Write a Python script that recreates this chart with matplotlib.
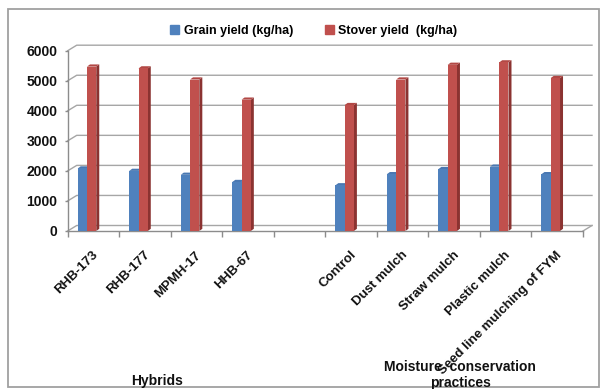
import numpy as np
import matplotlib
matplotlib.use("Agg")
import matplotlib.pyplot as plt
from matplotlib.patches import Polygon, Rectangle
from matplotlib.lines import Line2D
from matplotlib.transforms import ScaledTranslation, IdentityTransform

plt.rcParams["font.family"] = ["Liberation Sans", "DejaVu Sans"]
plt.rcParams["font.weight"] = "bold"

# Data
categories = ["RHB-173", "RHB-177", "MPMH-17", "HHB-67", "",
              "Control", "Dust mulch", "Straw mulch", "Plastic mulch",
              "Seed line mulching of FYM"]
grain = [2080, 2000, 1870, 1630, np.nan, 1520, 1890, 2060, 2140, 1890]
stover = [5470, 5410, 5040, 4370, np.nan, 4190, 5040, 5530, 5610, 5090]
series_names = ["Grain yield (kg/ha)", "Stover yield  (kg/ha)"]
yticks = [0, 1000, 2000, 3000, 4000, 5000, 6000]
group_titles = ["Hybrids", "Moisture  conservation\npractices"]

W, H = 600, 389
fig = plt.figure(figsize=(W / 100, H / 100), dpi=100)
fig.patch.set_facecolor("white")

ax = fig.add_axes([67.7 / W, (H - 231) / H, (583 - 67.7) / W, (231 - 50.7) / H])
ax.set_xlim(0, len(categories))
ax.set_ylim(0, 6000)
ax.patch.set_visible(False)

grid_c = "#a6a6a6"
axis_c = "#8c8c8c"
for s in ["top", "right"]:
    ax.spines[s].set_visible(False)
for s in ["left", "bottom"]:
    ax.spines[s].set_color(axis_c)
    ax.spines[s].set_linewidth(1.0)

x = np.arange(len(categories))
bw = 0.18
blue, red = "#4F81BD", "#C0504D"
b1 = ax.bar(x + 0.194, grain, width=bw, align="edge", color=blue, zorder=3)
b2 = ax.bar(x + 0.194 + bw, stover, width=bw, align="edge", color=red, zorder=3)

# depth offsets in pixels
wall_dx, wall_dy = 9, 5.5
bar_dx, bar_dy = 3, 2.2
ident = IdentityTransform()

# back wall gridlines and floor
for v in yticks:
    (lx, py), (rx, _) = ax.transData.transform([(0, v), (len(categories), v)])
    ln = Line2D([lx, lx + wall_dx, rx + wall_dx], [py, py + wall_dy, py + wall_dy],
                transform=ident, color=grid_c, lw=1.0, zorder=1, clip_on=False)
    ax.add_line(ln)
(rx0, ry0) = ax.transData.transform((len(categories), 0))
ax.add_line(Line2D([rx0, rx0 + wall_dx], [ry0, ry0 + wall_dy], transform=ident,
                   color=grid_c, lw=1.0, zorder=1, clip_on=False))


def add_depth(bars, side_c, top_c):
    for r in bars:
        h = r.get_height()
        if not np.isfinite(h):
            continue
        x0, y0 = r.get_x(), r.get_y()
        x1, y1 = x0 + r.get_width(), y0 + h
        (px0, py0), (px1, py1) = ax.transData.transform([(x0, y0), (x1, y1)])
        side = Polygon([(px1, py0), (px1 + bar_dx, py0 + bar_dy),
                        (px1 + bar_dx, py1 + bar_dy), (px1, py1)],
                       closed=True, transform=ident, facecolor=side_c,
                       edgecolor="none", zorder=2.5, clip_on=False)
        top = Polygon([(px0, py1), (px0 + bar_dx, py1 + bar_dy),
                       (px1 + bar_dx, py1 + bar_dy), (px1, py1)],
                      closed=True, transform=ident, facecolor=top_c,
                      edgecolor="none", zorder=2.5, clip_on=False)
        ax.add_patch(side)
        ax.add_patch(top)


add_depth(b1, "#3B6292", "#4A78B2")
add_depth(b2, "#8B3331", "#B24845")

# axes ticks
ax.set_yticks(yticks)
ax.tick_params(axis="y", length=2.5, width=1, color=axis_c, pad=5,
               labelsize=10, labelcolor="#111111")
ax.set_xticks(x + 0.5)
ax.set_xticklabels(categories, rotation=45, ha="right", va="center",
                   rotation_mode="anchor", fontsize=9.5, color="#111111")
ax.tick_params(axis="x", which="major", length=0, pad=16)
ax.set_xticks(np.arange(len(categories) + 1), minor=True)
ax.tick_params(axis="x", which="minor", length=4.5, width=1, color=axis_c,
               direction="out")
shift = ScaledTranslation(3 / 100, 0, fig.dpi_scale_trans)
for lbl in ax.get_xticklabels():
    lbl.set_transform(lbl.get_transform() + shift)

# legend
handles = [Rectangle((0, 0), 1, 1, color=blue), Rectangle((0, 0), 1, 1, color=red)]
fig.legend(handles, series_names, loc="center",
           bbox_to_anchor=(314 / W, 1 - 31 / H), ncol=2, frameon=False,
           prop=dict(weight="bold", size=9), handlelength=0.7, handleheight=0.7,
           handletextpad=0.35, columnspacing=2.6)

# group titles
fig.text(157.5 / W, 1 - 381 / H, group_titles[0], ha="center", va="center",
         fontsize=10, color="#111111")
fig.text(460 / W, 1 - 375 / H, group_titles[1], ha="center", va="center",
         fontsize=10, color="#111111", linespacing=1.15)

# chart frame
fig.add_artist(Rectangle((8.3 / W, 1.7 / H), (599 - 8.3) / W, (387.3 - 9.3) / H,
                         transform=fig.transFigure, fill=False,
                         edgecolor="#a0a0a0", lw=1.3))

fig.savefig("out.png", dpi=100)
